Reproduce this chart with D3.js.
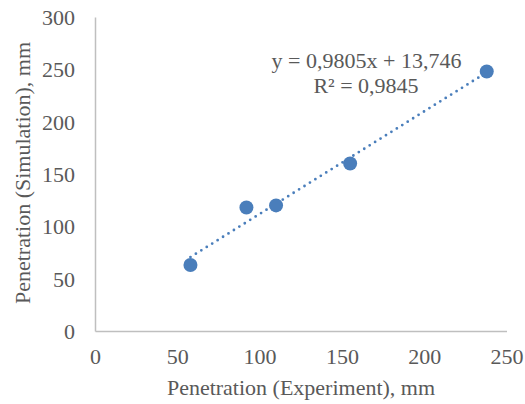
<!DOCTYPE html>
<html><head><meta charset="utf-8">
<script src="https://cdn.jsdelivr.net/npm/d3@7"></script>
<style>body{margin:0;background:#fff}svg{display:block}text{font-family:"Liberation Serif","Times New Roman",serif;fill:#595959}</style>
</head><body>
<script>
const xExp = [58, 92, 110, 155, 238];
const ySim = [63, 118, 120, 160, 248];
const xTicks = [0, 50, 100, 150, 200, 250];
const yTicks = [0, 50, 100, 150, 200, 250, 300];
const slope = 0.9805, intercept = 13.746;
const eqLabel = "y = 0,9805x + 13,746";
const r2Label = "R² = 0,9845";
const xTitle = "Penetration (Experiment), mm";
const yTitle = "Penetration (Simulation), mm";

const W = 525, H = 404;
const FS = "22px";
const svg = d3.select("body").append("svg").attr("width", W).attr("height", H);
const x = d3.scaleLinear().domain([0, 250]).range([95, 506.5]);
const y = d3.scaleLinear().domain([0, 300]).range([331, 17]);
const col = "#4a7ebb";

// axes
const xa = svg.append("g").attr("transform", `translate(0,${y(0)})`)
  .call(d3.axisBottom(x).tickValues(xTicks).tickSize(0).tickPadding(17).tickFormat(d3.format("d")));
const ya = svg.append("g").attr("transform", `translate(${x(0)},0)`)
  .call(d3.axisLeft(y).tickValues(yTicks).tickSize(0).tickPadding(20).tickFormat(d3.format("d")));
[xa, ya].forEach(a => {
  a.select(".domain").attr("stroke", "#bfbfbf").attr("stroke-width", 1.5);
  a.selectAll("text").style("font-size", FS).style("fill", "#595959").style("font-family", '"Liberation Serif",serif');
});
ya.selectAll("text").attr("dy", "0.34em");

// trendline
const x0 = d3.min(xExp), x1 = d3.max(xExp);
svg.append("line")
  .attr("x1", x(x0)).attr("y1", y(slope * x0 + intercept))
  .attr("x2", x(x1)).attr("y2", y(slope * x1 + intercept))
  .attr("stroke", col).attr("stroke-width", 2.8)
  .attr("stroke-dasharray", "0 6.4").attr("stroke-linecap", "round");

// points
svg.selectAll("circle.pt").data(xExp.map((v, i) => [v, ySim[i]])).enter().append("circle")
  .attr("cx", d => x(d[0])).attr("cy", d => y(d[1])).attr("r", 7).attr("fill", col);

// equation
svg.append("text").attr("x", 366.5).attr("y", 68).attr("text-anchor", "middle").style("font-size", FS).text(eqLabel);
svg.append("text").attr("x", 366).attr("y", 93).attr("text-anchor", "middle").style("font-size", FS).text(r2Label);

// titles
svg.append("text").attr("x", 301).attr("y", 395).attr("text-anchor", "middle").style("font-size", FS).text(xTitle);
svg.append("text").attr("transform", "translate(30,173) rotate(-90)").attr("text-anchor", "middle").style("font-size", FS).text(yTitle);
</script>
</body></html>
